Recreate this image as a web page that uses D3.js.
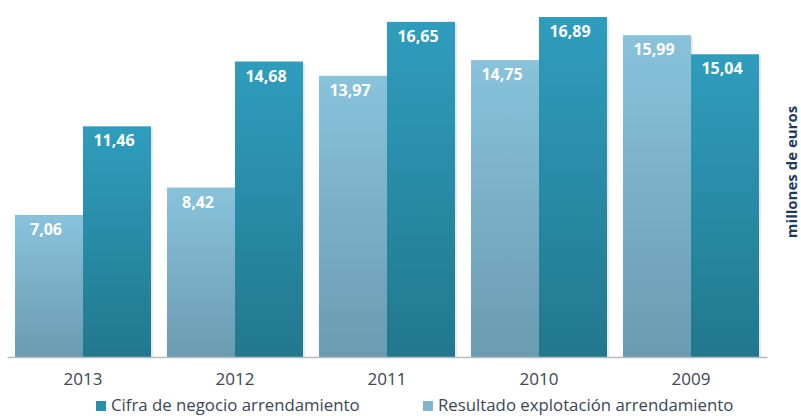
<!DOCTYPE html>
<html>
<head>
<meta charset="utf-8">
<script src="https://cdn.jsdelivr.net/npm/d3@7"></script>
<style>
  body { margin: 0; background: #fff; }
  svg { display: block; font-family: "Open Sans", sans-serif; }
</style>
</head>
<body>
<svg id="chart"></svg>
<script>
var years = ["2013", "2012", "2011", "2010", "2009"];
var resultado = [7.06, 8.42, 13.97, 14.75, 15.99];   // Resultado explotación arrendamiento
var cifra = [11.46, 14.68, 16.65, 16.89, 15.04];     // Cifra de negocio arrendamiento
var seriesNames = ["Resultado explotación arrendamiento", "Cifra de negocio arrendamiento"];

var svgWidth = 801, svgHeight = 416;
var svg = d3.select("#chart")
    .attr("width", svgWidth)
    .attr("height", svgHeight);

var defs = svg.append("defs");
function grad(id, top, bottom) {
    var g = defs.append("linearGradient")
        .attr("id", id)
        .attr("x1", 0).attr("y1", 0).attr("x2", 0).attr("y2", 1);
    g.append("stop").attr("offset", "0%").attr("stop-color", top);
    g.append("stop").attr("offset", "100%").attr("stop-color", bottom);
}
grad("gLight", "#88c3db", "#6b9bb0");
grad("gDark", "#2f9dbd", "#22788e");

var baseY = 357;
var x = d3.scaleBand().domain(years).range([7, 767]).paddingInner(0.105).paddingOuter(0.0526);
var x1 = d3.scaleBand().domain([0, 1]).range([0, x.bandwidth()]);
var y = d3.scaleLinear().domain([0, 17]).range([baseY, 14.8]);

var data = years.map(function(yr, i) {
    return { year: yr, vals: [resultado[i], cifra[i]] };
});

var groups = svg.append("g").selectAll("g")
    .data(data)
    .enter().append("g")
    .attr("transform", function(d) { return "translate(" + x(d.year) + ",0)"; });

var bars = groups.selectAll("g.bar")
    .data(function(d) { return d.vals.map(function(v, j) { return { v: v, j: j }; }); })
    .enter().append("g").attr("class", "bar");

// faint shadow on the right side
bars.append("rect")
    .attr("x", function(d) { return x1(d.j) + 2; })
    .attr("y", function(d) { return y(d.v) + 2; })
    .attr("width", x1.bandwidth())
    .attr("height", function(d) { return baseY - y(d.v) - 2; })
    .attr("fill", "#e6ebee");

bars.append("rect")
    .attr("x", function(d) { return x1(d.j); })
    .attr("y", function(d) { return y(d.v); })
    .attr("width", x1.bandwidth())
    .attr("height", function(d) { return baseY - y(d.v); })
    .attr("fill", function(d) { return d.j === 0 ? "url(#gLight)" : "url(#gDark)"; });

bars.append("text")
    .attr("x", function(d) { return x1(d.j) + x1.bandwidth() / 2 - 3; })
    .attr("y", function(d) { return y(d.v) + 20; })
    .attr("text-anchor", "middle")
    .attr("fill", "#fff")
    .attr("font-weight", "bold")
    .attr("font-size", 16)
    .text(function(d) { return d3.format(".2f")(d.v).replace(".", ","); });

// x axis
var xAxis = svg.append("g")
    .attr("transform", "translate(0," + baseY + ")")
    .call(d3.axisBottom(x).tickSize(0).tickPadding(16));
xAxis.select(".domain").attr("stroke", "#b8bcc0").attr("stroke-width", 1.5);
xAxis.selectAll("text")
    .attr("font-family", "Open Sans, sans-serif")
    .attr("font-size", 17)
    .attr("fill", "#3a4654");

// y axis title
svg.append("text")
    .attr("transform", "translate(792,172) rotate(-90)")
    .attr("text-anchor", "middle")
    .attr("dy", "0.35em")
    .attr("font-weight", "bold")
    .attr("font-size", 15)
    .attr("fill", "#1f3a5f")
    .text("millones de euros");

// legend
var legendItems = [
    { name: seriesNames[1], color: "#2a8fab", x: 96 },
    { name: seriesNames[0], color: "#7fb6cd", x: 423 }
];
var legend = svg.append("g").selectAll("g")
    .data(legendItems)
    .enter().append("g")
    .attr("transform", function(d) { return "translate(" + d.x + ",0)"; });
legend.append("rect")
    .attr("x", 0).attr("y", 401)
    .attr("width", 10).attr("height", 10)
    .attr("fill", function(d) { return d.color; });
legend.append("text")
    .attr("x", 15).attr("y", 411)
    .attr("font-size", 16.8)
    .attr("fill", "#3a4654")
    .text(function(d) { return d.name; });
</script>
</body>
</html>
